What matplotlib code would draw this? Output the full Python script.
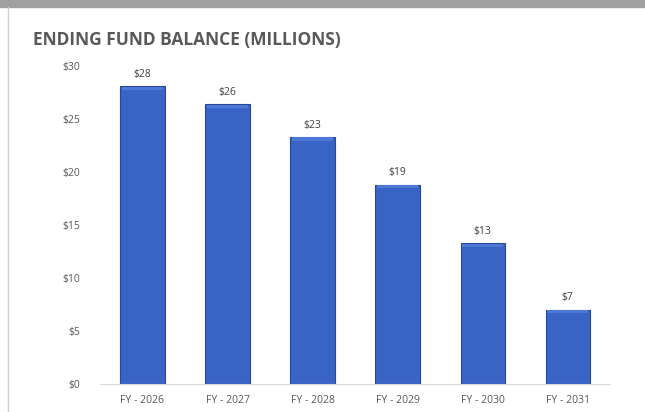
import numpy as np
import matplotlib
matplotlib.use("Agg")
import matplotlib.pyplot as plt
from matplotlib.patches import Rectangle
from matplotlib.lines import Line2D

years = ["FY - 2026", "FY - 2027", "FY - 2028", "FY - 2029", "FY - 2030", "FY - 2031"]
balance = [28.1, 26.4, 23.3, 18.8, 13.3, 7.0]
labels = ["$28", "$26", "$23", "$19", "$13", "$7"]
yticks = [0, 5, 10, 15, 20, 25, 30]

plt.rcParams['font.family'] = ['Open Sans', 'DejaVu Sans']
grey = '#595959'

fig = plt.figure(figsize=(6.45, 4.12), dpi=100)
ax = fig.add_axes([0.155, 0.068, 0.791, 0.772])

x = np.arange(len(years))
bars = ax.bar(x, balance, width=0.52, color='#3A63C6', edgecolor='#2A4793', linewidth=0.8, zorder=2)
# slightly lighter top strip, like the bevel in the original
ax.bar(x, [0.3] * len(x), bottom=np.array(balance) - 0.35, width=0.49,
       color='#4E78D6', linewidth=0, zorder=3)

for xi, v, lab in zip(x, balance, labels):
    ax.text(xi, v + 0.6, lab, ha='center', va='bottom', fontsize=7.5, color='#404040')

ax.set_xlim(-0.5, 5.5)
ax.set_ylim(0, 30)
ax.set_yticks(yticks)
ax.set_yticklabels(['$%d' % t for t in yticks])
ax.set_xticks(x)
ax.set_xticklabels(years)
ax.tick_params(axis='both', length=0, labelsize=7.5, labelcolor=grey)
ax.tick_params(axis='y', pad=14)
ax.tick_params(axis='x', pad=8)
for side in ['top', 'right', 'left']:
    ax.spines[side].set_visible(False)
ax.spines['bottom'].set_color('#D9D9D9')

fig.text(33 / 645, 1 - 40 / 412, 'ENDING FUND BALANCE (MILLIONS)', fontsize=12.5,
         fontweight='bold', color=grey, va='center', ha='left')

# frame from the screenshot
fig.patches.append(Rectangle((0, 1 - 7 / 412), 1, 7 / 412, transform=fig.transFigure,
                             color='#A0A0A0', zorder=0))
fig.lines.append(Line2D([8 / 645, 8 / 645], [0, 1 - 7 / 412], transform=fig.transFigure,
                        color='#D0D0D0', linewidth=1))

fig.savefig('out.png', dpi=100)
